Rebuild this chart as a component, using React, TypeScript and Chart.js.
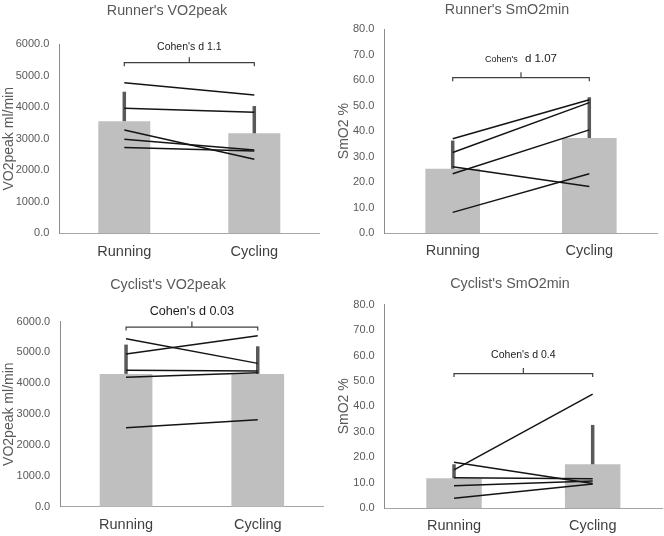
import React, { useEffect, useRef } from "react";
import { Chart, registerables } from "chart.js";

Chart.register(...registerables);

// ---------- data ----------
const categories = ["Running", "Cycling"];

const vo2Ticks = [0, 1000, 2000, 3000, 4000, 5000, 6000];
const smo2Ticks = [0, 10, 20, 30, 40, 50, 60, 70, 80];

// Runner's VO2peak (ml/min)
const runnerVO2Mean = [3560, 3175];
const runnerVO2SD = [935, 865];
const runnerVO2Subjects = [
  [4780, 4390],
  [3970, 3840],
  [3280, 2350],
  [2985, 2645],
  [2720, 2615],
];
const runnerVO2Bracket = 5417;
const runnerVO2Effect = "1.1";

// Runner's SmO2min (%)
const runnerSmO2Mean = [25.2, 37.3];
const runnerSmO2SD = [11.1, 16.0];
const runnerSmO2Subjects = [
  [37.0, 52.3],
  [31.6, 51.2],
  [23.3, 40.5],
  [26.0, 18.3],
  [8.1, 23.3],
];
const runnerSmO2Bracket = 61.0;
const runnerSmO2Effect = "1.07";

// Cyclist's VO2peak (ml/min)
const cyclistVO2Mean = [4304, 4304];
const cyclistVO2SD = [948, 893];
const cyclistVO2Subjects = [
  [5440, 4644],
  [4951, 5540],
  [4420, 4395],
  [4197, 4337],
  [2560, 2816],
];
const cyclistVO2Bracket = 5820;
const cyclistVO2Effect = "0.03";

// Cyclist's SmO2min (%)
const cyclistSmO2Mean = [11.7, 17.2];
const cyclistSmO2SD = [5.5, 15.5];
const cyclistSmO2Subjects = [
  [15.0, 44.8],
  [18.0, 9.6],
  [11.9, 11.5],
  [8.8, 10.6],
  [3.8, 9.4],
];
const cyclistSmO2Bracket = 52.9;
const cyclistSmO2Effect = "0.4";

// ---------- layout / style per panel ----------
const FONT = "'Liberation Sans', Arial, sans-serif";
const Y_TITLE_SIZE = 14;

type Spec = {
  x: number;
  y: number;
  title: string;
  titleX: number;
  titleY: number;
  yTitle: string;
  yTitleX: number;
  area: { l: number; r: number; t: number; b: number };
  means: number[];
  sds: number[];
  subjects: number[][];
  ticks: number[];
  bracket: number;
  effect: string;
  prefixSize: number;
  valueSize: number;
  labelGap: number;
  wordGap: number;
};

const W = 332;
const H = 268;

const specs: Spec[] = [
  {
    x: 0, y: 0,
    title: "Runner's VO2peak", titleX: 167, titleY: 11,
    yTitle: "VO2peak ml/min", yTitleX: 9,
    area: { l: 59.3, r: 319.3, t: 44.3, b: 233.3 },
    means: runnerVO2Mean, sds: runnerVO2SD, subjects: runnerVO2Subjects,
    ticks: vo2Ticks, bracket: runnerVO2Bracket, effect: runnerVO2Effect,
    prefixSize: 10.5, valueSize: 10.5, labelGap: 16, wordGap: 0,
  },
  {
    x: 332, y: 0,
    title: "Runner's SmO2min", titleX: 175, titleY: 10,
    yTitle: "SmO2 %", yTitleX: 12.5,
    area: { l: 52.4, r: 325.6, t: 29.3, b: 233.0 },
    means: runnerSmO2Mean, sds: runnerSmO2SD, subjects: runnerSmO2Subjects,
    ticks: smo2Ticks, bracket: runnerSmO2Bracket, effect: runnerSmO2Effect,
    prefixSize: 9, valueSize: 11.5, labelGap: 18.5, wordGap: 4,
  },
  {
    x: 0, y: 268,
    title: "Cyclist's VO2peak", titleX: 168, titleY: 17,
    yTitle: "VO2peak ml/min", yTitleX: 9,
    area: { l: 60.2, r: 323.6, t: 53.5, b: 238.8 },
    means: cyclistVO2Mean, sds: cyclistVO2SD, subjects: cyclistVO2Subjects,
    ticks: vo2Ticks, bracket: cyclistVO2Bracket, effect: cyclistVO2Effect,
    prefixSize: 12.6, valueSize: 12.6, labelGap: 16, wordGap: 0,
  },
  {
    x: 332, y: 268,
    title: "Cyclist's SmO2min", titleX: 178, titleY: 16,
    yTitle: "SmO2 %", yTitleX: 12.5,
    area: { l: 52.7, r: 330, t: 36.7, b: 240 },
    means: cyclistSmO2Mean, sds: cyclistSmO2SD, subjects: cyclistSmO2Subjects,
    ticks: smo2Ticks, bracket: cyclistSmO2Bracket, effect: cyclistSmO2Effect,
    prefixSize: 10.5, valueSize: 10.5, labelGap: 18.5, wordGap: 0,
  },
];

function makeOverlay(spec: Spec) {
  return {
    id: "overlay",
    afterDatasetDraw(chart: any, args: any) {
      if (args.index !== 0) return;
      const ctx = chart.ctx;
      const ys = chart.scales.y;
      const meta = chart.getDatasetMeta(0);
      ctx.save();
      ctx.strokeStyle = "#595959";
      ctx.lineWidth = 3.5;
      meta.data.forEach((el: any, i: number) => {
        const top = ys.getPixelForValue(spec.means[i] + spec.sds[i]);
        ctx.beginPath();
        ctx.moveTo(el.x, el.y);
        ctx.lineTo(el.x, top);
        ctx.stroke();
      });
      ctx.restore();
    },
    afterDraw(chart: any) {
      const ctx = chart.ctx;
      const xs = chart.scales.x;
      const ys = chart.scales.y;
      const x0 = xs.getPixelForValue(0);
      const x1 = xs.getPixelForValue(1);
      const by = ys.getPixelForValue(spec.bracket);
      const xm = (x0 + x1) / 2;
      ctx.save();
      // bracket
      ctx.strokeStyle = "#404040";
      ctx.lineWidth = 1.2;
      ctx.beginPath();
      ctx.moveTo(x0, by + 3.5);
      ctx.lineTo(x0, by);
      ctx.lineTo(x1, by);
      ctx.lineTo(x1, by + 3.5);
      ctx.moveTo(xm, by);
      ctx.lineTo(xm, by - 5.5);
      ctx.stroke();
      // effect size label
      const prefix = "Cohen's";
      const value = "d " + spec.effect;
      ctx.fillStyle = "#1a1a1a";
      ctx.textBaseline = "middle";
      ctx.textAlign = "left";
      ctx.font = `${spec.prefixSize}px ${FONT}`;
      const pw = ctx.measureText(prefix).width;
      ctx.font = `${spec.valueSize}px ${FONT}`;
      const sp = ctx.measureText(" ").width + spec.wordGap;
      const vw = ctx.measureText(value).width;
      const total = pw + sp + vw;
      const ly = by - spec.labelGap;
      let lx = xm - total / 2;
      ctx.font = `${spec.prefixSize}px ${FONT}`;
      ctx.fillText(prefix, lx, ly);
      lx += pw + sp;
      ctx.font = `${spec.valueSize}px ${FONT}`;
      ctx.fillText(value, lx, ly);
      // title
      ctx.font = `14.3px ${FONT}`;
      ctx.fillStyle = "#595959";
      ctx.textAlign = "center";
      ctx.fillText(spec.title, spec.titleX, spec.titleY);
      ctx.restore();
    },
  };
}

function Panel({ spec }: { spec: Spec }) {
  const ref = useRef<HTMLCanvasElement>(null);
  useEffect(() => {
    if (!ref.current) return;
    const a = spec.area;
    const datasets: any[] = [
      {
        type: "bar",
        data: spec.means,
        backgroundColor: "#bfbfbf",
        borderWidth: 0,
        barPercentage: 0.4,
        categoryPercentage: 1,
        order: 2,
      },
      ...spec.subjects.map((s) => ({
        type: "line",
        data: s,
        borderColor: "#141414",
        borderWidth: 1.5,
        pointRadius: 0,
        fill: false,
        tension: 0,
        order: 1,
      })),
    ];
    const chart = new Chart(ref.current, {
      type: "bar",
      data: { labels: categories, datasets },
      options: {
        responsive: false,
        animation: false,
        events: [],
        layout: { padding: { top: a.t, right: W - a.r, left: 0, bottom: 0 } },
        plugins: {
          legend: { display: false },
          tooltip: { enabled: false },
          title: { display: false },
        },
        scales: {
          x: {
            offset: true,
            grid: { display: false, drawTicks: false },
            border: { display: true, color: "#a6a6a6", width: 1 },
            ticks: {
              padding: 9.5,
              color: "#404040",
              font: { family: FONT, size: 14.5 },
              maxRotation: 0,
            },
            afterFit: (s: any) => {
              s.height = H - a.b;
            },
          },
          y: {
            min: spec.ticks[0],
            max: spec.ticks[spec.ticks.length - 1],
            grid: { display: false, drawTicks: false },
            border: { display: true, color: "#8c8c8c", width: 1 },
            afterBuildTicks: (s: any) => {
              s.ticks = spec.ticks.map((v) => ({ value: v }));
            },
            ticks: {
              padding: 10,
              color: "#595959",
              font: { family: FONT, size: 11 },
              callback: (v: any) => Number(v).toFixed(1),
            },
            title: {
              display: true,
              text: spec.yTitle,
              color: "#595959",
              font: { family: FONT, size: Y_TITLE_SIZE },
              padding: { top: spec.yTitleX - (Y_TITLE_SIZE * 1.2) / 2, bottom: 0 },
            },
            afterFit: (s: any) => {
              s.width = a.l;
            },
          },
        },
      } as any,
      plugins: [makeOverlay(spec)],
    });
    return () => chart.destroy();
  }, [spec]);
  return (
    <canvas
      ref={ref}
      width={W}
      height={H}
      style={{ position: "absolute", left: spec.x, top: spec.y, width: W, height: H }}
    />
  );
}

export default function App() {
  return (
    <div
      style={{
        position: "absolute",
        left: 0,
        top: 0,
        width: 664,
        height: 536,
        background: "#ffffff",
        overflow: "hidden",
      }}
    >
      {specs.map((s, i) => (
        <Panel key={i} spec={s} />
      ))}
    </div>
  );
}
